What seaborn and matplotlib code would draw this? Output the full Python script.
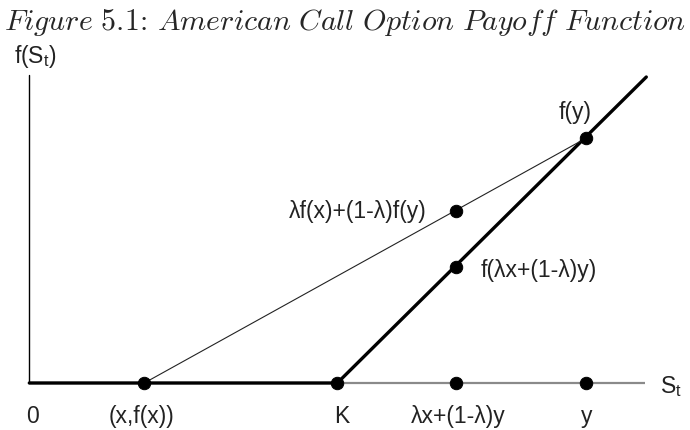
import matplotlib
matplotlib.use("Agg")
import matplotlib.pyplot as plt
import seaborn as sns
import pandas as pd

# diagram values (same unit on both axes)
axis_end = 616      # length of the S_t axis
y_axis_top = 308    # height of the f(S_t) axis

# call payoff f(S) = max(S - K, 0)
payoff_s = [0, 308, 617]
payoff_f = [0, 0, 306]

# chord between (x, f(x)) and (y, f(y))
chord_s = [115, 557]
chord_f = [0, 245]

# marked points
dot_s = [115, 308, 427, 557, 427, 427, 557]
dot_f = [0, 0, 0, 0, 116, 172, 245]

tick_pos = [3, 112, 312, 429, 557]
tick_labels = ["0", "(x,f(x))", "K", "λx+(1-λ)y", "y"]

sns.set_theme(style="white")
plt.rcParams["font.family"] = ["Liberation Sans", "DejaVu Sans"]

fig = plt.figure(figsize=(6.9, 4.31), dpi=100)
ax = fig.add_axes([0, 0, 1, 1])

# axes of the diagram
ax.plot([0, axis_end], [0, 0], color="#8a8a8a", linewidth=1.6, solid_capstyle="butt", zorder=1)
ax.plot([0, 0], [0, y_axis_top], color="black", linewidth=1.0, zorder=1)

payoff = pd.DataFrame({"S": payoff_s, "f": payoff_f})
chord = pd.DataFrame({"S": chord_s, "f": chord_f})
dots = pd.DataFrame({"S": dot_s, "f": dot_f})

sns.lineplot(data=payoff, x="S", y="f", color="black", linewidth=2.4, ax=ax, zorder=2)
sns.lineplot(data=chord, x="S", y="f", color="#222222", linewidth=0.8, ax=ax, zorder=2)
sns.scatterplot(data=dots, x="S", y="f", color="black", s=80, edgecolor="black", ax=ax, zorder=3)

fs = 16.5
for xp, lab in zip(tick_pos, tick_labels):
    ax.text(xp, -39, lab, ha="center", va="baseline", fontsize=fs, color="#222222")

ax.text(631, -3, r"S$_\mathregular{t}$", ha="left", va="center", fontsize=fs, color="#222222")
ax.text(6, 327, r"f(S$_\mathregular{t}$)", ha="center", va="center", fontsize=fs, color="#222222")
ax.text(546, 271, "f(y)", ha="center", va="center", fontsize=fs, color="#222222")
ax.text(451, 114, "f(λx+(1-λ)y)", ha="left", va="center", fontsize=fs, color="#222222")
ax.text(397, 172, "λf(x)+(1-λ)f(y)", ha="right", va="center", fontsize=fs, color="#222222")

fig.text(0.5, 1 - 22 / 431,
         r"$\mathit{Figure\ 5.1}$: $\mathit{American\ Call\ Option\ Payoff\ Function}$",
         ha="center", va="center", fontsize=21.5, family="cmr10", math_fontfamily="cm")

ax.set_xlim(-29.3, 660.7)
ax.set_ylim(-47, 384)
ax.axis("off")

fig.savefig("out.png", dpi=100)
